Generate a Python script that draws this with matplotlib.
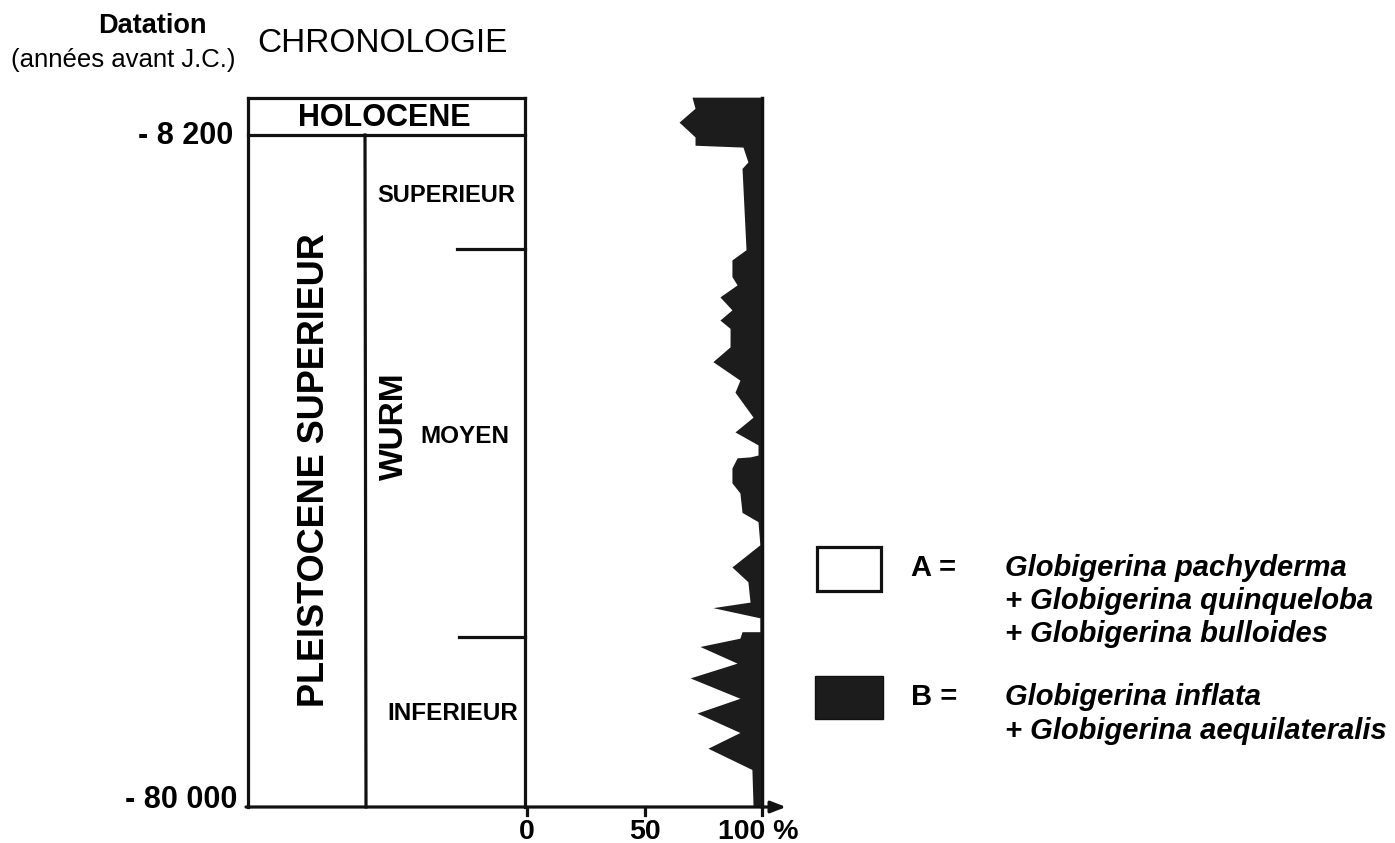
import numpy as np
import matplotlib.pyplot as plt
from matplotlib.patches import Rectangle

plt.rcParams['font.family'] = ['Liberation Sans', 'DejaVu Sans']

# profile data: age (thousand years B.C., negative) and cumulative % of group A
ages = [-4.0, -5.2, -6.7, -8.3, -9.2, -9.4, -11.0, -11.7, -20.5, -21.6,
        -23.4, -24.3, -25.6, -27.0, -28.1, -29.0, -31.0, -32.6, -34.6, -35.9,
        -38.6, -40.2, -41.3, -41.6, -42.7, -42.9, -43.0, -44.1, -45.7, -46.8,
        -48.9, -49.9, -52.4, -54.8, -56.4, -58.6, -59.2, -60.3, -61.8, -61.8,
        -62.5, -63.4, -65.2, -66.8, -69.0, -70.6, -72.7, -74.4, -76.7, -80.7]
pct_a = [70.2, 71.5, 64.7, 71.5, 71.5, 91.9, 94.0, 91.5, 93.2, 87.2,
         87.2, 89.4, 82.1, 87.2, 82.1, 86.4, 86.4, 79.1, 90.6, 88.5,
         96.2, 88.5, 96.2, 98.3, 98.3, 94.9, 89.4, 87.2, 87.2, 90.6,
         91.5, 98.3, 99.1, 87.2, 94.0, 94.9, 79.1, 99.1, 99.1, 91.5,
         90.6, 73.6, 89.4, 69.4, 90.6, 72.3, 90.6, 77.0, 95.7, 96.2]

x_ticks = [0, 50, 100]
x_tick_labels = ['0', '50', '100 %']
age_marks = [-8.2, -80.0]
age_labels = ['- 8 200', '- 80 000']

legend_a = ['Globigerina pachyderma', '+ Globigerina quinqueloba', '+ Globigerina bulloides']
legend_b = ['Globigerina inflata', '+ Globigerina aequilateralis']

# pixel -> data helpers (layout only)
X0, SX = 527.0, 2.35
Y0, SY = 136.0, 9.248


def X(px):
    return (px - X0) / SX


def Y(py):
    return -8.2 - (py - Y0) / SY


fig = plt.figure(figsize=(13.95, 8.43), dpi=100)
ax = fig.add_axes([0, 0, 1, 1])
ax.set_xlim(X(0), X(1395))
ax.set_ylim(Y(843), Y(0))
ax.axis('off')

lw = 2.3
k = '#111111'

# profile
ax.fill_betweenx(ages, pct_a, 100, color='#1c1c1c', lw=0)
ax.plot([100, 100], [Y(98), Y(807)], color=k, lw=2.5)

# chronology table
top, hol, bot = Y(98), Y(135), Y(807)
ax.plot([X(248), X(525)], [top, top], color=k, lw=lw)
ax.plot([X(248), X(525)], [hol, hol], color=k, lw=lw)
ax.plot([X(248), X(248)], [top, bot], color=k, lw=lw)
ax.plot([X(525), X(525)], [top, bot], color=k, lw=lw)
ax.plot([X(365), X(366)], [hol, bot], color=k, lw=lw)
ax.plot([X(457), X(525)], [Y(249), Y(249)], color=k, lw=lw)
ax.plot([X(459), X(525)], [Y(637), Y(637)], color=k, lw=lw)

# bottom axis with arrow
ax.annotate('', xy=(X(786), bot), xytext=(X(246), bot),
            arrowprops=dict(arrowstyle='-|>,head_length=0.9,head_width=0.35',
                            color=k, lw=lw, shrinkA=0, shrinkB=0))
for t in x_ticks:
    ax.plot([t, t], [bot, Y(815)], color=k, lw=lw)
ax.text(x_ticks[0], Y(832), x_tick_labels[0], ha='center', va='center',
        fontsize=20.5, fontweight='bold')
ax.text(x_ticks[1], Y(832), x_tick_labels[1], ha='center', va='center',
        fontsize=20.5, fontweight='bold')
ax.text(X(718), Y(832), x_tick_labels[2], ha='left', va='center',
        fontsize=20.5, fontweight='bold')

# age labels
ax.text(X(233), age_marks[0], age_labels[0], ha='right', va='center',
        fontsize=22, fontweight='bold')
ax.text(X(237), age_marks[1], age_labels[1], ha='right', va='center',
        fontsize=22, fontweight='bold')

# headers
ax.text(X(152), Y(26), 'Datation', ha='center', va='center',
        fontsize=19.5, fontweight='bold')
ax.text(X(123), Y(60), '(années avant J.C.)', ha='center', va='center',
        fontsize=18.5)
ax.text(X(382), Y(43), 'CHRONOLOGIE', ha='center', va='center',
        fontsize=24)
ax.text(X(384), Y(118), 'HOLOCENE', ha='center', va='center',
        fontsize=22, fontweight='bold')

ax.text(X(314), Y(470), 'PLEISTOCENE SUPERIEUR', ha='center', va='center',
        rotation=90, fontsize=26, fontweight='bold')
ax.text(X(394), Y(426), 'WURM', ha='center', va='center',
        rotation=90, fontsize=24, fontweight='bold')
ax.text(X(446), Y(195), 'SUPERIEUR', ha='center', va='center',
        fontsize=17, fontweight='bold')
ax.text(X(465), Y(436), 'MOYEN', ha='center', va='center',
        fontsize=17.5, fontweight='bold')
ax.text(X(453), Y(713), 'INFERIEUR', ha='center', va='center',
        fontsize=17.5, fontweight='bold')

# legend
ax.add_patch(Rectangle((X(817), Y(591)), X(881) - X(817), Y(547) - Y(591),
                       facecolor='white', edgecolor=k, lw=lw))
ax.add_patch(Rectangle((X(815), Y(719)), X(883) - X(815), Y(676) - Y(719),
                       facecolor='#1c1c1c', edgecolor=k, lw=1))
ax.text(X(911), Y(568), 'A =', ha='left', va='center', fontsize=21, fontweight='bold')
ax.text(X(911), Y(697), 'B =', ha='left', va='center', fontsize=21, fontweight='bold')
for i, s in enumerate(legend_a):
    ax.text(X(1005), Y(568 + 33 * i), s, ha='left', va='center',
            fontsize=21, fontweight='bold', fontstyle='italic')
for i, s in enumerate(legend_b):
    ax.text(X(1005), Y(697 + 34 * i), s, ha='left', va='center',
            fontsize=21, fontweight='bold', fontstyle='italic')

fig.savefig('out.png', dpi=100)
